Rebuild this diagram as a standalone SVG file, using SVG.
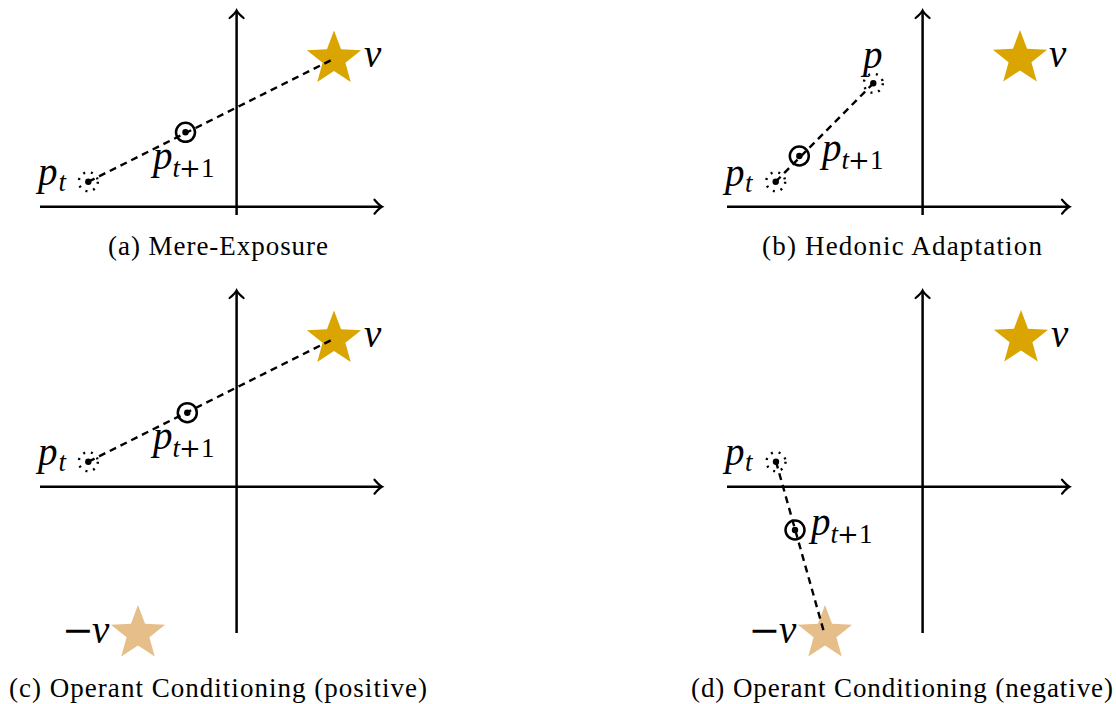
<svg xmlns="http://www.w3.org/2000/svg" width="1116" height="704" viewBox="0 0 1116 704">
<style>
.axis{stroke:#000;stroke-width:2.5;fill:none;marker-end:url(#arr)}
.dash{stroke:#000;stroke-width:2.4;fill:none;stroke-dasharray:7 5}
.dot{fill:#000}
.ring{fill:none;stroke:#000;stroke-width:2.5}
.dring{fill:none;stroke:#000;stroke-width:2.4;stroke-dasharray:2 5.85}
.m{font-family:"Liberation Serif","Times New Roman",serif;font-style:italic;font-size:39px;fill:#000}
.s{font-family:"Liberation Serif","Times New Roman",serif;font-style:italic;font-size:27px;fill:#000}
.sr{font-family:"Liberation Serif","Times New Roman",serif;font-size:27px;fill:#000}
.op{font-family:"DejaVu Serif",serif;fill:#000}
.cap{font-family:"Liberation Serif","Times New Roman",serif;font-size:27px;text-anchor:middle;fill:#000}
.gold{fill:#DAA500}
.pale{fill:#E6BE8A}
</style>
<defs>
<path id="star" d="M0,-28.5 L7.053,-9.708 L27.105,-8.807 L11.413,3.708 L16.752,23.057 L0,12 L-16.752,23.057 L-11.413,3.708 L-27.105,-8.807 L-7.053,-9.708 Z"/>
<marker id="arr" markerUnits="userSpaceOnUse" viewBox="-10 -9 12 18" refX="0" refY="0" markerWidth="12" markerHeight="18" orient="auto" overflow="visible">
<path d="M-7,-7 Q-2.5,-1.5 0.5,0 Q-2.5,1.5 -7,7" fill="none" stroke="#000" stroke-width="2.2" stroke-linecap="round"/>
</marker>
</defs>
<rect width="1116" height="704" fill="#fff"/>

<!-- Panel (a) -->
<g id="panel-a">
<g id="a-axes">
<line class="axis" x1="40" y1="206.7" x2="381.5" y2="206.7"/>
<line class="axis" x1="236.6" y1="215" x2="236.6" y2="11"/>
</g>
<g id="a-v"><use href="#star" x="334" y="59" class="gold"/><text class="m" x="364" y="67">v</text></g>
<g id="a-connectors"><line class="dash" x1="88.3" y1="181.7" x2="333.5" y2="59"/></g>
<g id="a-pt"><circle class="dring" cx="88.3" cy="181.7" r="9.5"/><circle class="dot" cx="88.3" cy="181.7" r="3.2"/>
<text class="m" x="38" y="185">p</text><text class="s" x="58.5" y="191">t</text></g>
<g id="a-pt1"><circle class="ring" cx="185.5" cy="132.3" r="9.5"/><circle class="dot" cx="185.5" cy="132.3" r="3.2"/>
<text class="m" x="153" y="169">p</text><text class="s" x="172.5" y="177">t</text><text class="op" font-size="26" x="179" y="177">+</text><text class="sr" x="201" y="177">1</text></g>
<text class="cap" x="218" y="255" textLength="220" lengthAdjust="spacing">(a) Mere-Exposure</text>
</g>

<!-- Panel (b) -->
<g id="panel-b">
<g id="b-axes">
<line class="axis" x1="727" y1="206.7" x2="1069" y2="206.7"/>
<line class="axis" x1="922.6" y1="215" x2="922.6" y2="11"/>
</g>
<g id="b-v"><use href="#star" x="1020" y="58.5" class="gold"/><text class="m" x="1049" y="67">v</text></g>
<g id="b-connectors"><line class="dash" x1="775.7" y1="181.7" x2="873.3" y2="83.3"/></g>
<g id="b-pt"><circle class="dring" cx="775.7" cy="181.7" r="9.5"/><circle class="dot" cx="775.7" cy="181.7" r="3.2"/>
<text class="m" x="725" y="186">p</text><text class="s" x="745" y="192">t</text></g>
<g id="b-pt1"><circle class="ring" cx="799.3" cy="156" r="9.5"/><circle class="dot" cx="799.3" cy="156" r="3.2"/>
<text class="m" x="822" y="161">p</text><text class="s" x="841.5" y="169">t</text><text class="op" font-size="26" x="848" y="169">+</text><text class="sr" x="870" y="169">1</text></g>
<g id="b-p"><circle class="dring" cx="873.3" cy="83.3" r="9.5"/><circle class="dot" cx="873.3" cy="83.3" r="3.2"/>
<text class="m" x="863" y="68">p</text></g>
<text class="cap" x="902" y="255" textLength="280" lengthAdjust="spacing">(b) Hedonic Adaptation</text>
</g>

<!-- Panel (c) -->
<g id="panel-c">
<g id="c-axes">
<line class="axis" x1="40" y1="486.7" x2="381.5" y2="486.7"/>
<line class="axis" x1="236.6" y1="633" x2="236.6" y2="291"/>
</g>
<g id="c-v"><use href="#star" x="334" y="339" class="gold"/><text class="m" x="364" y="347">v</text></g>
<g id="c-negv"><use href="#star" x="138" y="633.5" class="pale"/><text class="op" font-size="38" x="62" y="643">−</text><text class="m" x="92" y="643">v</text></g>
<g id="c-connectors"><line class="dash" x1="88.3" y1="461.7" x2="333.5" y2="339"/></g>
<g id="c-pt"><circle class="dring" cx="88.3" cy="461.7" r="9.5"/><circle class="dot" cx="88.3" cy="461.7" r="3.2"/>
<text class="m" x="38" y="465">p</text><text class="s" x="58.5" y="471">t</text></g>
<g id="c-pt1"><circle class="ring" cx="187.3" cy="412.7" r="9.5"/><circle class="dot" cx="187.3" cy="412.7" r="3.2"/>
<text class="m" x="153" y="449">p</text><text class="s" x="172.5" y="457">t</text><text class="op" font-size="26" x="179" y="457">+</text><text class="sr" x="201" y="457">1</text></g>
<text class="cap" x="218" y="697" textLength="418" lengthAdjust="spacing">(c) Operant Conditioning (positive)</text>
</g>

<!-- Panel (d) -->
<g id="panel-d">
<g id="d-axes">
<line class="axis" x1="727" y1="486.7" x2="1069" y2="486.7"/>
<line class="axis" x1="922.6" y1="633" x2="922.6" y2="291"/>
</g>
<g id="d-v"><use href="#star" x="1021" y="338.5" class="gold"/><text class="m" x="1051" y="347">v</text></g>
<g id="d-negv"><use href="#star" x="825" y="633.5" class="pale"/><text class="op" font-size="38" x="748.5" y="643">−</text><text class="m" x="779" y="643">v</text></g>
<g id="d-connectors"><line class="dash" x1="776" y1="461.7" x2="824.3" y2="633.3"/></g>
<g id="d-pt"><circle class="dring" cx="776" cy="461.7" r="9.5"/><circle class="dot" cx="776" cy="461.7" r="3.2"/>
<text class="m" x="725" y="465">p</text><text class="s" x="745" y="471">t</text></g>
<g id="d-pt1"><circle class="ring" cx="795" cy="530" r="9.5"/><circle class="dot" cx="795" cy="530" r="3.2"/>
<text class="m" x="811" y="535">p</text><text class="s" x="830.5" y="543">t</text><text class="op" font-size="26" x="837" y="543">+</text><text class="sr" x="859" y="543">1</text></g>
<text class="cap" x="902" y="697" textLength="422" lengthAdjust="spacing">(d) Operant Conditioning (negative)</text>
</g>
</svg>
